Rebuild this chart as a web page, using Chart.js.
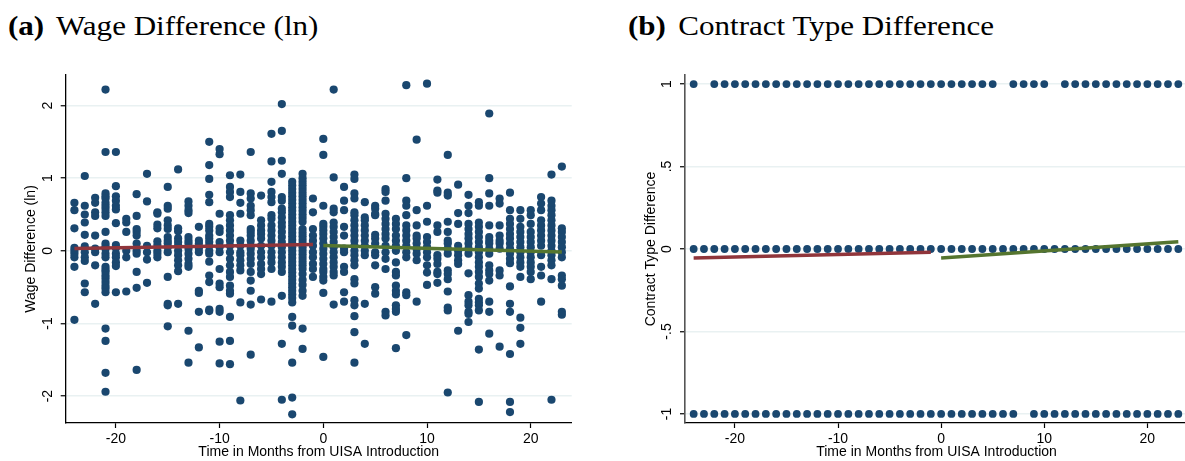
<!DOCTYPE html>
<html><head><meta charset="utf-8">
<script src="https://cdn.jsdelivr.net/npm/chart.js@4.4.1/dist/chart.umd.min.js"></script>
<style>
html,body{margin:0;padding:0;background:#fff;}
body{width:1185px;height:461px;overflow:hidden;position:relative;}
canvas{position:absolute;top:0;}
.ttl{position:absolute;top:13px;font-family:"Liberation Serif","Times New Roman",serif;font-size:27px;line-height:27px;color:#000;white-space:nowrap;transform:scaleX(1.15);transform-origin:0 0;}
.ttl b{margin-right:4px;}
</style></head><body>
<div class="ttl" style="left:8px"><b>(a)</b> Wage Difference (ln)</div>
<div class="ttl" style="left:628px"><b>(b)</b> Contract Type Difference</div>
<canvas id="ca" width="592" height="461" style="left:0"></canvas>
<canvas id="cb" width="600" height="461" style="left:592px"></canvas>
<script>
// ---------- data ----------
const preMonths  = [-24,-23,-22,-21,-20,-19,-18,-17,-16,-15,-14,-13,-12,-11,-10,-9,-8,-7,-6,-5,-4,-3,-2,-1];
const postMonths = [0,1,2,3,4,5,6,7,8,9,10,11,12,13,14,15,16,17,18,19,20,21,22,23];

const wagePre = [
 [0.66,0.56,0.31,0.04,0.0,-0.04,-0.09,-0.22,-0.95],
 [1.03,0.62,0.5,0.39,0.22,0.06,-0.02,-0.09,-0.14,-0.45,-0.57],
 [0.73,0.66,0.53,0.48,0.21,0.03,-0.02,-0.2,-0.73],
 [2.22,1.36,0.79,0.75,0.72,0.66,0.62,0.58,0.53,0.48,0.26,0.1,0.06,0.03,-0.04,-0.09,-0.22,-0.26,-0.29,-0.34,-0.38,-0.43,-0.48,-0.52,-0.57,-1.07,-1.24,-1.68,-1.94],
 [1.36,0.89,0.75,0.69,0.62,0.57,0.38,0.08,0.04,-0.04,-0.09,-0.16,-0.21,-0.57],
 [0.44,0.39,0.26,0.0,-0.09,-0.56],
 [0.78,0.48,0.3,0.26,0.21,0.1,0.0,-0.04,-0.29,-0.51,-1.64],
 [1.06,0.68,0.07,-0.02,-0.12,-0.44],
 [0.53,0.51,0.36,0.31,0.13,0.08,0.0,-0.04,-0.09],
 [0.88,0.62,0.58,0.42,0.35,0.3,0.19,0.14,0.1,0.05,-0.02,-0.36,-0.73,-0.75,-1.04],
 [1.12,0.31,0.27,0.17,0.12,0.07,0.0,-0.06,-0.13,-0.2,-0.28,-0.73],
 [0.68,0.62,0.56,0.52,0.19,0.14,0.1,0.03,-0.04,-0.11,-0.18,-0.22,-1.1,-1.54],
 [0.33,0.14,0.1,0.03,-0.02,-0.55,-0.58,-0.84,-1.33],
 [1.5,1.18,0.99,0.77,0.67,0.37,0.33,0.28,0.21,0.17,0.12,0.07,0.0,-0.04,-0.15,-0.34,-0.43,-0.81,-0.83],
 [1.4,1.33,0.51,0.31,0.26,0.12,0.05,-0.02,-0.25,-0.45,-0.5,-0.8,-0.84,-1.25,-1.55],
 [1.04,0.88,0.81,0.74,0.49,0.42,0.35,0.28,0.21,0.14,0.07,-0.02,-0.11,-0.2,-0.29,-0.36,-0.48,-0.55,-0.59,-0.91,-1.24,-1.56],
 [1.05,0.81,0.66,0.51,0.14,0.07,-0.02,-0.06,-0.13,-0.2,-0.27,-0.71,-2.06],
 [1.36,0.79,0.72,0.62,0.56,0.49,0.3,0.26,0.21,0.14,0.07,0.03,-0.04,-0.11,-0.18,-0.29,-0.41,-0.55,-0.74,-1.43],
 [0.76,0.42,0.35,0.28,0.23,0.17,0.07,-0.02,-0.09,-0.18,-0.25,-0.32,-0.67],
 [1.61,1.23,0.95,0.81,0.74,0.67,0.49,0.44,0.35,0.28,0.21,0.14,0.07,-0.02,-0.09,-0.16,-0.25,-0.7],
 [2.02,1.65,1.24,1.06,0.74,0.69,0.58,0.53,0.46,0.39,0.33,0.26,0.19,0.12,0.05,-0.02,-0.09,-0.16,-0.22,-0.29,-0.62,-1.28,-2.05],
 [0.95,0.9,0.85,0.8,0.75,0.7,0.65,0.6,0.55,0.5,0.45,0.4,0.35,0.3,0.25,0.2,0.15,0.1,0.05,0,-0.05,-0.1,-0.15,-0.2,-0.25,-0.3,-0.35,-0.4,-0.45,-0.5,-0.55,-0.6,-0.65,-0.71,-0.91,-1.03,-1.54,-2.02,-2.25],
 [1.06,1.0,0.95,0.9,0.85,0.8,0.75,0.7,0.65,0.6,0.55,0.5,0.45,0.4,0.3,0.25,0.2,0.15,0.1,0.05,0,-0.05,-0.1,-0.15,-0.2,-0.25,-0.32,-0.4,-0.47,-0.55,-0.62,-1.07,-1.35],
 [0.72,0.53,0.3,0.21,0.14,0.07,-0.02,-0.09,-0.18,-0.25,-0.36]
];
const wagePost = [
 [1.54,1.32,0.62,0.37,0.33,0.28,0.23,0.17,0.1,0.03,-0.04,-0.11,-0.18,-0.25,-0.29,-0.36,-0.41,-0.58,-1.46],
 [2.22,1.01,0.58,0.53,0.39,0.33,0.26,0.19,0.12,0.05,-0.02,-0.09,-0.16,-0.22,-0.29,-0.34,-0.74],
 [0.88,0.69,0.56,0.33,0.21,0.03,-0.02,-0.22,-0.29,-0.57,-0.7],
 [1.05,0.99,0.79,0.72,0.53,0.49,0.42,0.35,0.28,0.21,0.14,0.07,0.0,-0.06,-0.13,-0.2,-0.39,-0.45,-0.68,-0.75,-0.9,-1.12,-1.54],
 [0.67,0.46,0.42,0.35,0.28,0.21,0.14,0.07,0.0,-0.06,-0.73,-1.28],
 [0.62,0.58,0.51,0.49,0.22,0.17,0.1,-0.02,-0.06,-0.2,-0.5,-0.59],
 [0.85,0.81,0.69,0.51,0.44,0.37,0.3,0.23,0.17,0.07,-0.02,-0.11,-0.25,-0.84,-0.89],
 [0.44,0.37,0.3,0.21,0.14,0.07,0.0,-0.16,-0.29,-0.34,-0.48,-0.55,-0.6,-0.75,-0.8,-0.84,-1.34],
 [2.28,1.0,0.69,0.62,0.49,0.35,0.28,0.21,0.14,0.07,-0.02,-0.09,-0.57,-0.61,-1.16],
 [1.53,0.56,0.35,0.21,0.17,0.1,0.03,-0.04,-0.13,-0.7],
 [2.3,0.62,0.4,0.19,0.12,0.05,-0.02,-0.09,-0.2,-0.3,-0.47],
 [0.98,0.83,0.8,0.35,0.26,-0.06,-0.11,-0.18,-0.29,-0.32,-0.44],
 [1.32,0.8,0.76,0.4,0.26,0.14,0.1,0.03,-0.04,-0.27,-0.32,-0.39,-0.56,-0.78,-0.82,-1.95],
 [0.91,0.52,0.37,0.07,0.0,-0.06,-0.13,-0.18,-1.1],
 [0.77,0.62,0.52,0.37,0.3,0.23,0.17,0.1,0.03,-0.04,-0.31,-0.61,-0.7,-0.75,-0.84,-0.87,-0.98],
 [0.67,0.62,0.39,0.33,0.26,0.19,0.12,0.05,-0.02,-0.09,-0.16,-0.22,-0.29,-0.36,-0.45,-0.52,-0.66,-0.71,-0.75,-0.82,-1.36,-2.08],
 [1.89,1.0,0.79,0.62,0.35,0.19,0.14,0.1,0.03,-0.04,-0.2,-0.27,-0.32,-0.41,-0.7,-0.84,-1.14],
 [0.72,0.65,0.35,0.21,0.14,0.1,0.03,-0.27,-0.34,-1.32],
 [0.8,0.56,0.44,0.37,0.3,0.23,0.17,0.1,0.03,-0.04,-0.11,-0.17,-0.49,-0.73,-0.84,-1.42,-2.08,-2.22],
 [0.56,0.44,0.33,0.26,0.19,0.12,0.05,-0.02,-0.09,-0.16,-0.22,-0.36,-0.92,-1.06,-1.28],
 [0.56,0.49,0.37,0.26,0.19,0.12,0.05,-0.02,-0.09,-0.16,-0.22,-0.29,-0.39],
 [0.74,0.65,0.56,0.42,0.35,0.28,0.21,0.14,0.07,-0.06,-0.22,-0.34,-0.7],
 [1.05,0.69,0.62,0.56,0.49,0.42,0.35,0.28,0.21,0.14,0.07,0.0,-0.06,-0.13,-0.2,-0.39,-2.05],
 [1.16,0.31,0.26,0.19,0.12,0.05,-0.02,-0.09,-0.34,-0.39,-0.48,-0.84,-0.88]
];
// linear fits (panel a)
const wageFitPreX  = [-24, -1];
const wageFitPreY  = [0.033, 0.088];
const wageFitPostX = [0, 23];
const wageFitPostY = [0.074, -0.018];

// panel b: months observed at each contract-type difference level
const contractPlusOneMonths  = [-24,-22,-21,-20,-19,-18,-17,-16,-15,-14,-13,-12,-11,-10,-9,-8,-7,-6,-5,-4,-3,-2,-1,0,1,2,3,4,5,7,8,9,10,12,13,14,15,16,17,18,19,20,21,22,23];
const contractZeroMonths     = [-24,-23,-22,-21,-20,-19,-18,-17,-16,-15,-14,-13,-12,-11,-10,-9,-8,-7,-6,-5,-4,-3,-2,-1,0,1,2,3,4,5,6,7,8,9,10,11,12,13,14,15,16,17,18,19,20,21,22,23];
const contractMinusOneMonths = [-24,-23,-22,-21,-20,-19,-18,-17,-16,-15,-14,-13,-12,-11,-10,-9,-8,-7,-6,-5,-4,-3,-2,-1,0,1,2,3,4,5,6,7,9,10,11,12,13,14,15,16,17,18,19,20,21,22,23];
const contractFitPreX  = [-24, -1];
const contractFitPreY  = [-0.055, -0.02];
const contractFitPostX = [0, 23];
const contractFitPostY = [-0.055, 0.044];

// axes
const xTickValues = [-20, -10, 0, 10, 20];
const wageYTicks = [-2, -1, 0, 1, 2];
const wageYTickLabels = ['-2', '-1', '0', '1', '2'];
const contractYTicks = [-1, -0.5, 0, 0.5, 1];
const contractYTickLabels = ['-1', '-.5', '0', '.5', '1'];
const xTitle = 'Time in Months from UISA Introduction';

// ---------- build ----------
const NAVY = '#1a476f', MAROON = '#90353b', GREEN = '#55752f', GRID = '#e9f1f2';
const FONT = {family: '"Liberation Sans", Arial, sans-serif', size: 14};

function pts(xs, ys) { return xs.map((x, i) => ({x: x, y: ys[i]})); }

const wagePoints = [];
wagePre.forEach((col, i) => col.forEach(v => wagePoints.push({x: preMonths[i], y: v})));
wagePost.forEach((col, i) => col.forEach(v => wagePoints.push({x: postMonths[i], y: v})));

const contractPoints = [];
contractPlusOneMonths.forEach(m => contractPoints.push({x: m, y: 1}));
contractZeroMonths.forEach(m => contractPoints.push({x: m, y: 0}));
contractMinusOneMonths.forEach(m => contractPoints.push({x: m, y: -1}));

const yLabelPlugin = {
  id: 'yLabels',
  afterDraw(chart, args, opts) {
    const ctx = chart.ctx, s = chart.scales.y;
    ctx.save();
    ctx.font = '14px "Liberation Sans", Arial, sans-serif';
    ctx.fillStyle = '#000';
    ctx.textAlign = 'center';
    ctx.textBaseline = 'middle';
    opts.values.forEach((v, i) => {
      const py = s.getPixelForValue(v);
      ctx.save();
      ctx.translate(opts.x, py);
      ctx.rotate(-Math.PI / 2);
      ctx.fillText(opts.labels[i], 0, 0);
      ctx.restore();
    });
    ctx.restore();
  }
};

function buildChart(el, o) {
  return new Chart(el, {
    type: 'scatter',
    data: {datasets: [
      {type: 'line', data: o.fitPre, borderColor: MAROON, borderWidth: 3.5, pointRadius: 0, order: 0, fill: false, borderCapStyle: 'butt'},
      {type: 'line', data: o.fitPost, borderColor: GREEN, borderWidth: 3.5, pointRadius: 0, order: 0, fill: false, borderCapStyle: 'butt'},
      {data: o.points, backgroundColor: NAVY, borderColor: NAVY, borderWidth: 0, pointRadius: o.dotR, pointHoverRadius: o.dotR, order: 1}
    ]},
    options: {
      responsive: false, animation: false, events: [],
      layout: {padding: {top: 75, left: 0, right: o.padRight, bottom: 0}},
      plugins: {legend: {display: false}, tooltip: {enabled: false},
        yLabels: {values: o.yTicks, labels: o.yTickLabels, x: o.yLabelX}},
      scales: {
        x: {type: 'linear', min: -24.84, max: 23.95,
          afterBuildTicks: s => { s.ticks = xTickValues.map(v => ({value: v})); },
          afterFit: s => { s.height = 38; },
          border: {display: true, color: '#000', width: 1.3},
          grid: {drawOnChartArea: false, drawTicks: true, tickLength: 5, tickColor: '#000', tickWidth: 1.2},
          ticks: {font: FONT, color: '#000', padding: 3, maxRotation: 0, callback: v => String(v)},
          title: {display: true, text: xTitle, font: FONT, color: '#000', padding: {top: 0, bottom: 0}}
        },
        y: {type: 'linear', min: o.yMin, max: o.yMax,
          afterBuildTicks: s => { s.ticks = o.yTicks.map(v => ({value: v})); },
          afterFit: s => { s.width = o.yWidth; },
          border: {display: true, color: o.yAxisColor, width: o.yAxisWidth},
          grid: {color: GRID, lineWidth: 1.5, drawTicks: true, tickLength: 5, tickColor: '#000', tickWidth: 1.2},
          ticks: {display: false},
          title: {display: true, text: o.yTitle, font: FONT, color: '#000', padding: {top: o.yTitlePad, bottom: 0}}
        }
      }
    },
    plugins: [yLabelPlugin]
  });
}

buildChart(document.getElementById('ca'), {
  points: wagePoints, dotR: 4.1,
  fitPre: pts(wageFitPreX, wageFitPreY), fitPost: pts(wageFitPostX, wageFitPostY),
  yMin: -2.37, yMax: 2.42, yTicks: wageYTicks, yTickLabels: wageYTickLabels,
  yTitle: 'Wage Difference (ln)', yWidth: 65.7, yTitlePad: 22.6, yLabelX: 48,
  padRight: 20.3, yAxisColor: '#000', yAxisWidth: 1.3
});
buildChart(document.getElementById('cb'), {
  points: contractPoints, dotR: 3.9,
  fitPre: pts(contractFitPreX, contractFitPreY), fitPost: pts(contractFitPostX, contractFitPostY),
  yMin: -1.055, yMax: 1.055, yTicks: contractYTicks, yTickLabels: contractYTickLabels,
  yTitle: 'Contract Type Difference', yWidth: 93, yTitlePad: 50.6, yLabelX: 75.5,
  padRight: 0, yAxisColor: '#555', yAxisWidth: 1.6
});
</script>
</body></html>
